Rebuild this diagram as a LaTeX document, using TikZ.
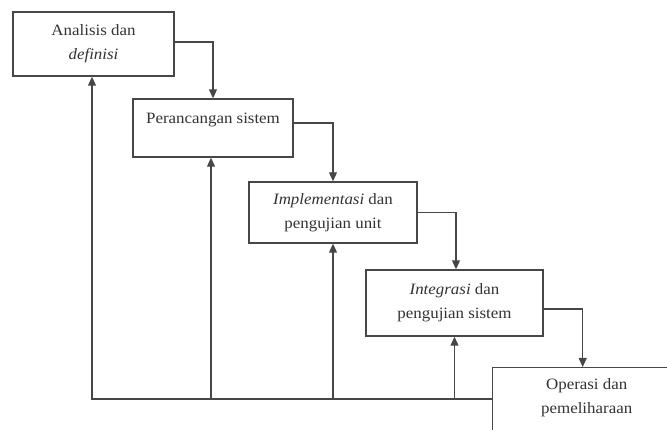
\documentclass[tikz,border=0pt]{standalone}
\usepackage{fontspec}
\setmainfont{Liberation Serif}[FakeStretch=1.07]
\usetikzlibrary{arrows.meta}
\begin{document}
\begin{tikzpicture}[x=1pt,y=-1pt,
  stagebox/.style={draw=black!72,line width=1.4pt,fill=white,align=center,
    text=black!80,font=\fontsize{15.8}{24}\selectfont,inner sep=0pt},
  flow/.style={draw=black!72,line width=1.1pt,-{Triangle[width=8pt,length=9pt]}}]
\path[use as bounding box,clip] (0,0) rectangle (667,430);
\node[stagebox,minimum width=161pt,minimum height=64pt] (b1) at (93.5,44) {Analisis dan\\\textit{definisi}};
\node[stagebox,minimum width=160pt,minimum height=58pt] (b2) at (213,128) {Perancangan sistem\\[-12pt]\strut};
\node[stagebox,minimum width=168pt,minimum height=61pt] (b3) at (333,212.5) {\textit{Implementasi} dan\\pengujian unit};
\node[stagebox,minimum width=177pt,minimum height=66pt] (b4) at (454.5,303) {\textit{Integrasi} dan\\pengujian sistem};
\node[stagebox,minimum width=188pt,minimum height=88pt,anchor=north west] (b5) at (492,367) {Operasi dan\\pemeliharaan\\\strut};
\coordinate (base) at (0,399);
\draw[flow] ([yshift=2pt]b1.east) -| (b2.north);
\draw[flow] ([yshift=5pt]b2.east) -| (b3.north);
\draw[flow] (b3.east) -| ([xshift=1.5pt]b4.north);
\draw[flow] ([yshift=-6pt]b4.east) -| ([xshift=-4pt]b5.north);
\draw[flow] (b5.west |- base) -| ([xshift=-1.5pt]b1.south);
\draw[flow] ([xshift=-2pt]b2.south |- base) -- ([xshift=-2pt]b2.south);
\draw[flow] (b3.south |- base) -- (b3.south);
\draw[flow] (b4.south |- base) -- (b4.south);
\end{tikzpicture}
\end{document}
